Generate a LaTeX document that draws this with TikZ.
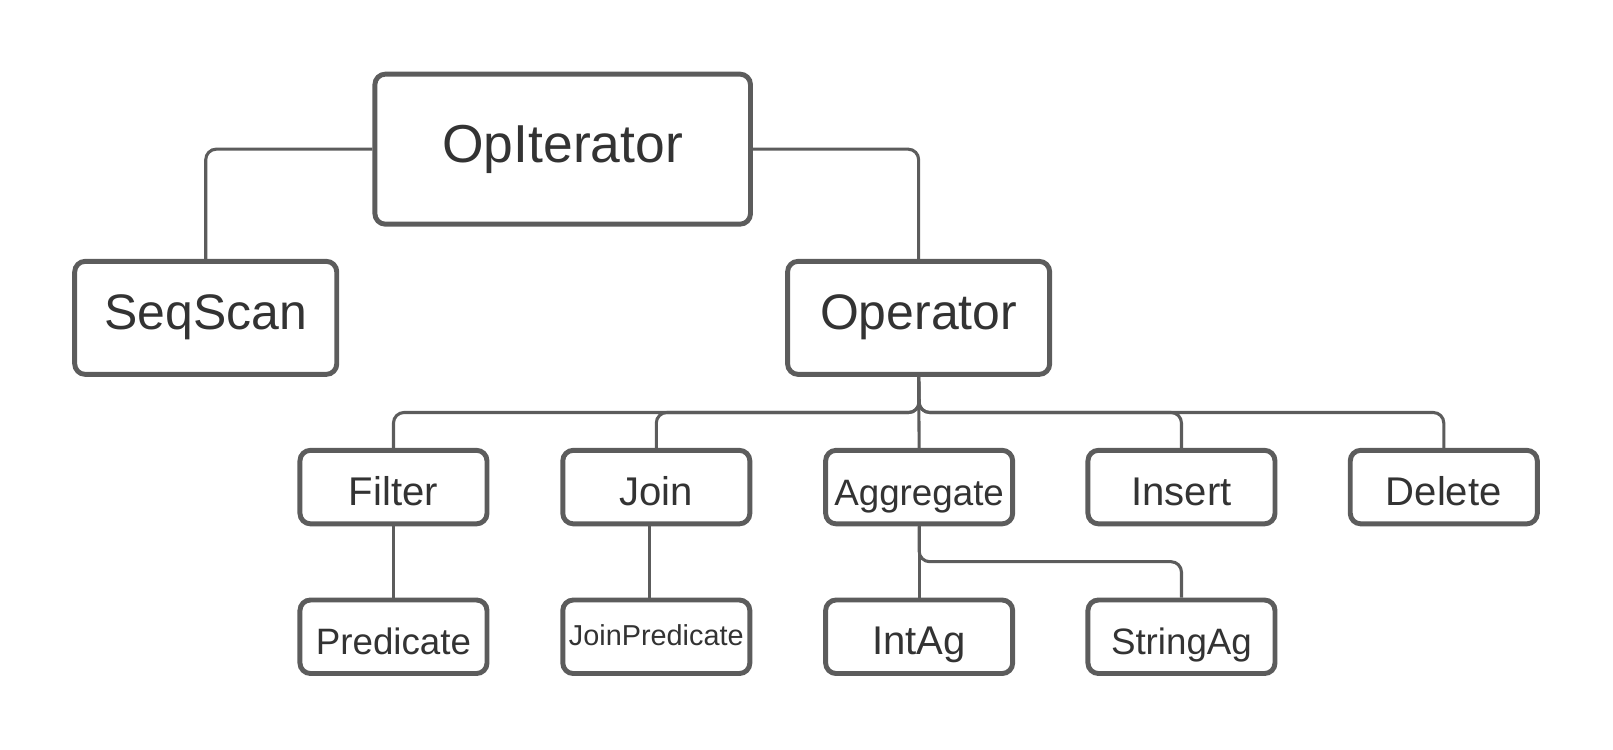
\documentclass[tikz,border=0pt]{standalone}
\usepackage{fontspec}
\setmainfont{Liberation Sans}
\usetikzlibrary{positioning}
\definecolor{edgegray}{HTML}{5C5C5C}
\definecolor{textgray}{HTML}{333333}
\tikzset{
	classbox/.style={draw=edgegray, line width=2.8pt, rounded corners=0.21cm, text=textgray, inner sep=0pt, text depth=0pt},
	bigbox/.style={classbox, minimum width=5.24cm, minimum height=2.26cm, text height=13.3pt},
	smallbox/.style={classbox, minimum width=3.74cm, minimum height=1.47cm, text height=20.5pt},
	link/.style={draw=edgegray, line width=1.75pt, rounded corners=0.21cm}
}
\newcommand{\sizeA}{\fontsize{30.4}{35}\selectfont}
\newcommand{\sizeB}{\fontsize{28.4}{33}\selectfont}
\newcommand{\sizeC}{\fontsize{22.8}{27}\selectfont}
\newcommand{\sizeD}{\fontsize{20.9}{25}\selectfont}
\newcommand{\sizeE}{\fontsize{16.4}{20}\selectfont}
\begin{document}
\begin{tikzpicture}[x=0.020574cm, y=-0.020574cm]
		\useasboundingbox (0,0) rectangle (1568,729);
		% top levels
		\node[bigbox, minimum width=7.51cm, minimum height=3.0cm, text height=14.8pt] (opiter) at (547,145) {\sizeA OpIterator};
		\node[bigbox] (seqscan) at (200,309) {\sizeB SeqScan};
		\node[bigbox] (operator) at (893,309) {\sizeB Operator};
		% operators
		\node[smallbox] (filter) at (382.5,473.5) {\sizeC Filter};
		\node[smallbox] (join) at (638,473.5) {\sizeC Join};
		\node[smallbox] (aggregate) at (893.5,473.5) {\sizeD Aggregate};
		\node[smallbox] (insert) at (1148.5,473.5) {\sizeC Insert};
		\node[smallbox] (delete) at (1403.5,473.5) {\sizeC Delete};
		% helpers
		\node[smallbox] (predicate) at (382.5,619) {\sizeD Predicate};
		\node[smallbox, text height=9.4pt] (joinpred) at (638,619) {\sizeE JoinPredicate};
		\node[smallbox] (intag) at (893.5,619) {\sizeC IntAg};
		\node[smallbox] (stringag) at (1148.5,619) {\sizeD StringAg};
		\coordinate (bus) at (893.5,401);
		\coordinate (agsplit) at (893.5,546);
		\draw[link] (opiter.west) -| (seqscan.north);
		\draw[link] (opiter.east) -| (operator.north);
		\draw[link] (operator.south) -- (bus) -| (filter.north);
		\draw[link] (operator.south) -- (bus) -| (join.north);
		\draw[link] (operator.south) -- (aggregate.north);
		\draw[link] (operator.south) -- (bus) -| (insert.north);
		\draw[link] (operator.south) -- (bus) -| (delete.north);
		\draw[link] (filter.south) -- (predicate.north);
		\draw[link] ([xshift=-0.144cm]join.south) -- ([xshift=-0.144cm]joinpred.north);
		\draw[link] (aggregate.south) -- (intag.north);
		\draw[link] (aggregate.south) -- (agsplit) -| (stringag.north);
	\end{tikzpicture}
\end{document}
